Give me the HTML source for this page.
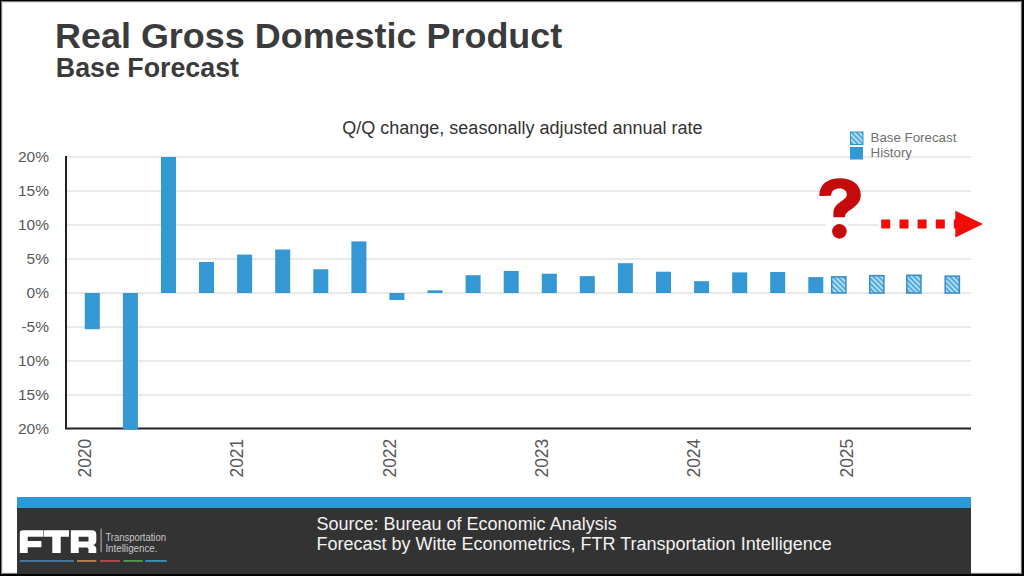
<!DOCTYPE html>
<html><head><meta charset="utf-8">
<style>
html,body{margin:0;padding:0;}
body{width:1024px;height:576px;position:relative;overflow:hidden;background:#000;font-family:"Liberation Sans",sans-serif;}
#page{position:absolute;left:1px;top:1px;width:1021px;height:573px;background:#fff;}
.abs{position:absolute;white-space:nowrap;line-height:1;}
#title{left:55.0px;top:18.3px;font-size:35.95px;font-weight:bold;color:#3b3b3b;}
#sub{left:55.8px;top:54.7px;font-size:26.8px;font-weight:bold;color:#3b3b3b;}
#ctitle{left:342.3px;top:118.8px;font-size:18px;color:#333;}
.yl{position:absolute;right:975px;font-size:15.5px;line-height:1;color:#595959;white-space:nowrap;}
.legt{position:absolute;font-size:13.3px;line-height:1;color:#707070;white-space:nowrap;}
#footer{position:absolute;left:17px;top:497px;width:954px;height:77px;background:#333333;}
#fstrip{position:absolute;left:0;top:0;width:954px;height:11px;background:#2b99d5;}
.ftxt{position:absolute;left:299.5px;font-size:18px;line-height:1;color:#f2f2f2;white-space:nowrap;}
svg text{font-family:"Liberation Sans",sans-serif;}
</style></head><body>
<div id="page"></div>
<div style="position:absolute;left:1px;top:1px;width:1px;height:573px;background:#7a7a7a"></div>
<div style="position:absolute;left:2px;top:2px;width:1px;height:571px;background:#e6e6e6"></div>
<div style="position:absolute;left:1px;top:1px;width:1021px;height:1px;background:#808080"></div>
<div style="position:absolute;left:2px;top:2px;width:1019px;height:1px;background:#e2e2e2"></div>
<div style="position:absolute;left:1020px;top:2px;width:1px;height:571px;background:#ececec"></div>
<div style="position:absolute;left:1021px;top:1px;width:1px;height:573px;background:#6a6a6a"></div>
<div style="position:absolute;left:2px;top:572px;width:1019px;height:1px;background:#ececec"></div>
<div style="position:absolute;left:1px;top:573px;width:1021px;height:1px;background:#808080"></div>
<div class="abs" id="title">Real Gross Domestic Product</div>
<div class="abs" id="sub">Base Forecast</div>
<div class="abs" id="ctitle">Q/Q change, seasonally adjusted annual rate</div>
<div class="yl" style="top:149.4px">20%</div>
<div class="yl" style="top:183.4px">15%</div>
<div class="yl" style="top:217.4px">10%</div>
<div class="yl" style="top:251.4px">5%</div>
<div class="yl" style="top:285.4px">0%</div>
<div class="yl" style="top:319.4px">-5%</div>
<div class="yl" style="top:353.4px">10%</div>
<div class="yl" style="top:387.4px">15%</div>
<div class="yl" style="top:421.4px">20%</div>

<div id="footer"><div id="fstrip"></div>
<div class="ftxt" style="top:17.6px">Source: Bureau of Economic Analysis</div>
<div class="ftxt" style="top:37.5px">Forecast by Witte Econometrics, FTR Transportation Intelligence</div>
</div>
<svg width="1024" height="576" style="position:absolute;left:0;top:0">
<defs>
<pattern id="hatch" patternUnits="userSpaceOnUse" width="3.6" height="3.6" patternTransform="rotate(-45)">
<rect width="3.6" height="3.6" fill="#ace0f6"/>
<rect width="1.6" height="3.6" fill="#4a9fd3"/>
</pattern>
</defs>
<line x1="67" y1="157" x2="971" y2="157" stroke="#e2e2e2" stroke-width="1.5"/>
<line x1="67" y1="191" x2="971" y2="191" stroke="#e2e2e2" stroke-width="1.5"/>
<line x1="67" y1="225" x2="971" y2="225" stroke="#e2e2e2" stroke-width="1.5"/>
<line x1="67" y1="259" x2="971" y2="259" stroke="#e2e2e2" stroke-width="1.5"/>
<line x1="67" y1="293" x2="971" y2="293" stroke="#e2e2e2" stroke-width="1.5"/>
<line x1="67" y1="327" x2="971" y2="327" stroke="#e2e2e2" stroke-width="1.5"/>
<line x1="67" y1="361" x2="971" y2="361" stroke="#e2e2e2" stroke-width="1.5"/>
<line x1="67" y1="395" x2="971" y2="395" stroke="#e2e2e2" stroke-width="1.5"/>

<line x1="66" y1="156" x2="66" y2="429" stroke="#222" stroke-width="2"/>
<line x1="65" y1="428.5" x2="971" y2="428.5" stroke="#222" stroke-width="2"/>
<rect x="84.8" y="293" width="15" height="36.2" fill="#3398d3"/><rect x="122.9" y="293" width="15" height="136.5" fill="#3398d3"/><rect x="161.0" y="157" width="15" height="136" fill="#3398d3"/><rect x="199.0" y="262" width="15" height="31" fill="#3398d3"/><rect x="237.1" y="254.6" width="15" height="38.4" fill="#3398d3"/><rect x="275.2" y="249.5" width="15" height="43.5" fill="#3398d3"/><rect x="313.3" y="269.3" width="15" height="23.7" fill="#3398d3"/><rect x="351.4" y="241.4" width="15" height="51.6" fill="#3398d3"/><rect x="389.4" y="293" width="15" height="7" fill="#3398d3"/><rect x="427.5" y="290.3" width="15" height="2.7" fill="#3398d3"/><rect x="465.6" y="275.2" width="15" height="17.8" fill="#3398d3"/><rect x="503.7" y="271" width="15" height="22" fill="#3398d3"/><rect x="541.8" y="273.7" width="15" height="19.3" fill="#3398d3"/><rect x="579.8" y="276.1" width="15" height="16.9" fill="#3398d3"/><rect x="617.9" y="263.2" width="15" height="29.8" fill="#3398d3"/><rect x="656.0" y="271.7" width="15" height="21.3" fill="#3398d3"/><rect x="694.1" y="281.2" width="15" height="11.8" fill="#3398d3"/><rect x="732.2" y="272.4" width="15" height="20.6" fill="#3398d3"/><rect x="770.2" y="272" width="15" height="21" fill="#3398d3"/><rect x="808.3" y="277.1" width="15" height="15.9" fill="#3398d3"/>
<rect x="831.7" y="276.85" width="14.2" height="16.1" fill="url(#hatch)" stroke="#3a8cc2" stroke-width="1.5"/><rect x="869.7" y="275.65" width="14.2" height="17.4" fill="url(#hatch)" stroke="#3a8cc2" stroke-width="1.5"/><rect x="906.8" y="275.25" width="14.2" height="17.8" fill="url(#hatch)" stroke="#3a8cc2" stroke-width="1.5"/><rect x="945.2" y="276.15" width="14.2" height="16.9" fill="url(#hatch)" stroke="#3a8cc2" stroke-width="1.5"/>
<rect x="850.5" y="132" width="12.5" height="12.5" fill="url(#hatch)" stroke="#3a8fc4" stroke-width="1"/>
<rect x="850" y="147" width="13" height="12.5" fill="#3398d3"/>
<text transform="translate(90.7,477.6) rotate(-90)" font-size="17.5" fill="#595959">2020</text>
<text transform="translate(243.1,477.6) rotate(-90)" font-size="17.5" fill="#595959">2021</text>
<text transform="translate(395.5,477.6) rotate(-90)" font-size="17.5" fill="#595959">2022</text>
<text transform="translate(547.9,477.6) rotate(-90)" font-size="17.5" fill="#595959">2023</text>
<text transform="translate(700.3,477.6) rotate(-90)" font-size="17.5" fill="#595959">2024</text>
<text transform="translate(852.7,477.6) rotate(-90)" font-size="17.5" fill="#595959">2025</text>

<rect x="825.6" y="186" width="22.2" height="55" fill="#fff"/>
<path d="M819.3 196 C819.3 184 828 178.3 840 178.3 C852 178.3 860.8 184.5 860.8 195 C860.8 202 856 206 851 209.5 C846.5 212.5 845 214 845 217.2 L833.4 217.2 L833.4 213 C833.4 208 836 205 841 201.5 C845 198.5 846.8 197.5 846.8 194.5 C846.8 191 844 188.6 839.5 188.6 C834.5 188.6 831.5 191 831 195.8 Z" fill="#c40a0a"/>
<circle cx="839.4" cy="231.4" r="7.3" fill="#c40a0a"/>
<rect x="878" y="218" width="80" height="12" fill="#fff" fill-opacity="0.6"/><rect x="881.2" y="219.5" width="9" height="9" fill="#f50a0a"/><rect x="899.5" y="219.5" width="9" height="9" fill="#f50a0a"/><rect x="917.6" y="219.5" width="9" height="9" fill="#f50a0a"/><rect x="935.8" y="219.5" width="9" height="9" fill="#f50a0a"/><rect x="953.8" y="219.5" width="9" height="9" fill="#f50a0a"/><path d="M955.3 210.8 L983 224 L955.3 237.5 Z" fill="#f50a0a"/>

<path fill="#fff" d="M19.8 533 Q19.8 530.2 22.6 530.2 L43.1 530.2 L43.1 536.7 L27.7 536.7 L27.7 541.1 L41.4 541.1 L41.4 547.3 L27.7 547.3 L27.7 553 L19.8 553 Z"/>
<path fill="#fff" d="M43.6 530.2 L69 530.2 L69 536.7 L60.7 536.7 L60.7 553 L52.3 553 L52.3 536.7 L43.6 536.7 Z"/>
<path fill="#fff" fill-rule="evenodd" d="M70.8 530.2 L92 530.2 Q96.3 530.2 96.3 534.5 L96.3 541 Q96.3 544 93 545 Q96.3 546 96.3 549 L96.3 553 L88.5 553 L88.5 549.5 Q88.5 547.5 86.5 547.5 L78.7 547.5 L78.7 553 L70.8 553 Z M78.7 536.7 L78.7 541.5 L88.5 541.5 L88.5 536.7 Z"/>
<rect x="100.6" y="528.7" width="1" height="23.4" fill="#bbb"/>
<rect x="19.8" y="560.1" width="54.1" height="1.7" fill="#4a82b0"/>
<rect x="77" y="560.1" width="19.3" height="1.7" fill="#c28a52"/>
<rect x="100" y="560.1" width="19.9" height="1.7" fill="#c04a50"/>
<rect x="123.4" y="560.1" width="19.5" height="1.7" fill="#58a050"/>
<rect x="145.3" y="560.1" width="21.4" height="1.7" fill="#3a9cc4"/>
<text x="105.4" y="541.4" font-size="11.6" fill="#c8c8c8" textLength="60.6" lengthAdjust="spacingAndGlyphs">Transportation</text>
<text x="105.4" y="551.8" font-size="11.6" fill="#c8c8c8" textLength="52" lengthAdjust="spacingAndGlyphs">Intelligence.</text>

</svg>
<div class="legt" style="left:870.6px;top:130.8px">Base Forecast</div>
<div class="legt" style="left:870.6px;top:145.8px">History</div>
</body></html>
